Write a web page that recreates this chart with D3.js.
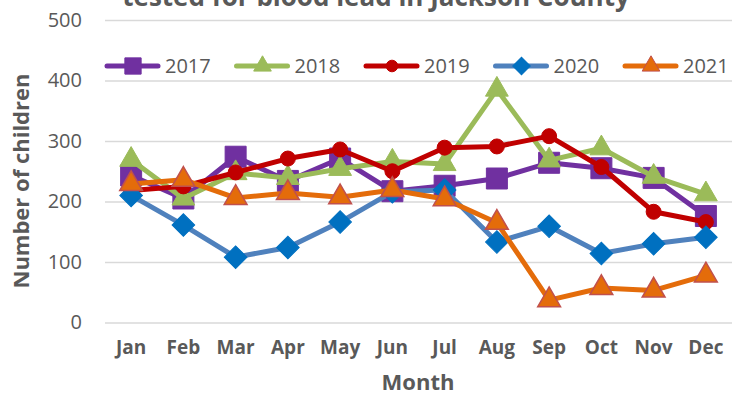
<!DOCTYPE html>
<html>
<head>
<meta charset="utf-8">
<script src="https://cdn.jsdelivr.net/npm/d3@7"></script>
<style>
  html, body { margin: 0; padding: 0; background: #fff; }
  svg { display: block; font-family: "Open Sans", sans-serif; }
</style>
</head>
<body>
<div id="chart"></div>
<script>
var months = ["Jan", "Feb", "Mar", "Apr", "May", "Jun", "Jul", "Aug", "Sep", "Oct", "Nov", "Dec"];
var yTicks = [0, 100, 200, 300, 400, 500];

var values2017 = [243, 205, 274, 234, 271, 217, 226, 238, 264, 255, 239, 176];
var values2018 = [269, 205, 247, 239, 254, 266, 262, 385, 268, 288, 241, 212];
var values2019 = [218, 225, 248, 271, 286, 250, 289, 291, 308, 257, 183, 166];
var values2020 = [210, 161, 108, 124, 166, 216, 219, 133, 159, 114, 130, 141];
var values2021 = [229, 236, 206, 214, 207, 219, 204, 165, 37, 57, 53, 78];

var series = [
  { name: "2017", values: values2017, line: "#7030A0", fill: "#7030A0", stroke: "#7030A0", marker: "square" },
  { name: "2018", values: values2018, line: "#9BBB59", fill: "#9BBB59", stroke: "#9BBB59", marker: "triangle" },
  { name: "2019", values: values2019, line: "#C00000", fill: "#C00000", stroke: "#C00000", marker: "circle" },
  { name: "2020", values: values2020, line: "#4F81BD", fill: "#0070C0", stroke: "#0070C0", marker: "diamond" },
  { name: "2021", values: values2021, line: "#E46C0A", fill: "#E46C0A", stroke: "#C0504D", marker: "triangle" }
];

var width = 746,
    height = 403;
var plot = { left: 105, right: 732, top: 20, bottom: 322.5 };
var textColor = "#595959";

var svg = d3.select("#chart")
  .append("svg")
    .attr("width", width)
    .attr("height", height);

var x = d3.scaleBand()
  .domain(months)
  .range([plot.left, plot.right]);

var y = d3.scaleLinear()
  .domain([0, 500])
  .range([plot.bottom, plot.top]);

// marker area in px^2 for d3.symbol; the diamond is a square turned 45 degrees
var markerSize = {
  square: 21 * 21,
  triangle: 225,
  circle: Math.PI * 7.5 * 7.5,
  diamond: 16 * 16
};
var symbolTypes = {
  square: d3.symbolSquare,
  triangle: d3.symbolTriangle,
  circle: d3.symbolCircle,
  diamond: d3.symbolSquare
};

function markerPath(kind, scale) {
  return d3.symbol().type(symbolTypes[kind]).size(markerSize[kind] * scale)();
}

function markerRotation(kind) {
  return kind === "diamond" ? " rotate(45)" : "";
}

// title (its first line is off the top of the picture)
svg.append("text")
  .attr("x", 376)
  .attr("y", 6)
  .attr("text-anchor", "middle")
  .attr("fill", textColor)
  .attr("font-size", "26px")
  .attr("font-weight", "bold")
  .text("tested for blood lead in Jackson County");

// gridlines
var yAxis = d3.axisLeft(y)
  .tickValues(yTicks)
  .tickSize(-(plot.right - plot.left))
  .tickPadding(23);

svg.append("g")
  .attr("class", "y-axis")
  .attr("transform", "translate(" + plot.left + ",0)")
  .call(yAxis)
  .call(function(g) {
    g.select(".domain").remove();
    g.selectAll(".tick line").attr("stroke", "#D9D9D9").attr("stroke-width", 1.5);
    g.selectAll(".tick text")
      .attr("fill", textColor)
      .attr("font-size", "20px")
      .attr("font-family", "Open Sans, sans-serif");
  });

var xAxis = d3.axisBottom(x)
  .tickSize(0)
  .tickPadding(18);

svg.append("g")
  .attr("class", "x-axis")
  .attr("transform", "translate(0," + plot.bottom + ")")
  .call(xAxis)
  .call(function(g) {
    g.select(".domain").remove();
    g.selectAll(".tick text")
      .attr("fill", textColor)
      .attr("font-size", "19px")
      .attr("font-weight", "bold")
      .attr("font-family", "Open Sans, sans-serif");
  });

// axis titles
svg.append("text")
  .attr("transform", "translate(29,181) rotate(-90)")
  .attr("text-anchor", "middle")
  .attr("fill", textColor)
  .attr("font-size", "22px")
  .attr("font-weight", "bold")
  .text("Number of children");

svg.append("text")
  .attr("x", 418)
  .attr("y", 390)
  .attr("text-anchor", "middle")
  .attr("fill", textColor)
  .attr("font-size", "22px")
  .attr("font-weight", "bold")
  .text("Month");

// series lines and markers
var line = d3.line()
  .x(function(d, i) { return x(months[i]) + x.bandwidth() / 2; })
  .y(function(d) { return y(d); });

series.forEach(function(s) {
  var g = svg.append("g").attr("class", "series s" + s.name);
  g.append("path")
    .attr("d", line(s.values))
    .attr("fill", "none")
    .attr("stroke", s.line)
    .attr("stroke-width", 5)
    .attr("stroke-linejoin", "round")
    .attr("stroke-linecap", "round");
  g.selectAll(".marker")
    .data(s.values)
    .enter()
      .append("path")
      .attr("class", "marker")
      .attr("transform", function(d, i) {
        return "translate(" + (x(months[i]) + x.bandwidth() / 2) + "," + y(d) + ")" + markerRotation(s.marker);
      })
      .attr("d", markerPath(s.marker, 1))
      .attr("fill", s.fill)
      .attr("stroke", s.stroke)
      .attr("stroke-width", s.name === "2021" ? 1.5 : 1);
});

// legend
var legendStep = 129.5;
var legend = svg.append("g")
  .attr("class", "legend")
  .attr("transform", "translate(105,66)");

series.forEach(function(s, i) {
  var item = legend.append("g")
    .attr("transform", "translate(" + (i * legendStep) + ",0)");
  item.append("line")
    .attr("x1", 2).attr("x2", 53)
    .attr("stroke", s.line)
    .attr("stroke-width", 5)
    .attr("stroke-linecap", "round");
  item.append("path")
    .attr("transform", "translate(28,0)" + markerRotation(s.marker))
    .attr("d", markerPath(s.marker, 0.6))
    .attr("fill", s.fill)
    .attr("stroke", s.stroke)
    .attr("stroke-width", 1);
  item.append("text")
    .attr("x", 60)
    .attr("y", 7)
    .attr("fill", textColor)
    .attr("font-size", "20px")
    .text(s.name);
});
</script>
</body>
</html>
